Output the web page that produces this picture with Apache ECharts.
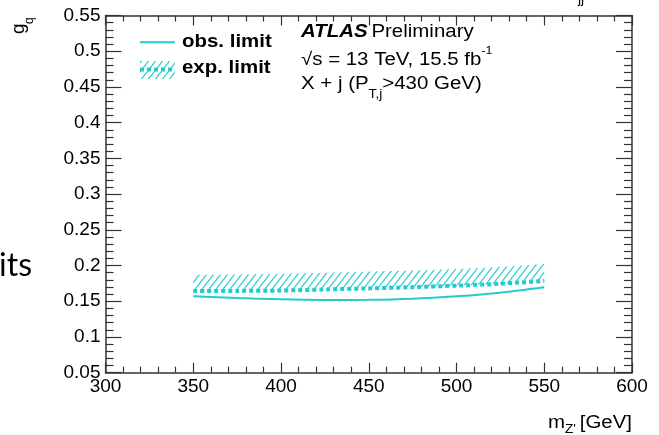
<!DOCTYPE html>
<html><head><meta charset="utf-8">
<script src="https://cdn.jsdelivr.net/npm/echarts@6/dist/echarts.min.js"></script>
<style>html,body{margin:0;padding:0;background:#fff}#c{width:659px;height:435px}</style>
</head><body><div id="c"></div>
<script>
// ---- data ----
const masses = [350, 375, 400, 425, 450, 475, 500, 525, 550];
const observed = [0.157, 0.1545, 0.1528, 0.1518, 0.152, 0.1535, 0.157, 0.162, 0.1695];
const expected = [0.1644, 0.1645, 0.165, 0.1665, 0.168, 0.1697, 0.1718, 0.1745, 0.1785];
const expectedUpper = [0.187, 0.1875, 0.1885, 0.19, 0.1915, 0.1932, 0.1952, 0.198, 0.202];
const xMin = 300, xMax = 600, xInterval = 50;
const yMin = 0.05, yMax = 0.55, yInterval = 0.05;

const CYAN = '#22cccc';
const AX = '#333333';
const FONT = 'Liberation Sans, Arial, sans-serif';
const SX = 1.136;

function hatchCanvas() {
  const c = document.createElement('canvas');
  c.width = 7; c.height = 9;
  const g = c.getContext('2d');
  g.strokeStyle = CYAN; g.lineWidth = 1.1;
  for (const dx of [-7, 0, 7]) {
    g.beginPath(); g.moveTo(dx - 0.8, 10); g.lineTo(dx + 7.8, -1); g.stroke();
  }
  return c;
}
const hatch = hatchCanvas();

const pairs = arr => masses.map((m, i) => [m, arr[i]]);

const tickStyle = { color: AX, width: 1.2 };
function mkX(pos, labels) {
  return {
    type: 'value', position: pos, min: xMin, max: xMax, interval: xInterval,
    splitLine: { show: false },
    axisLine: { show: true, onZero: false, lineStyle: { color: AX, width: 1.5 } },
    axisTick: { show: true, inside: true, length: 10, lineStyle: tickStyle },
    minorTick: { show: true, splitNumber: 5, length: 6, lineStyle: tickStyle },
    axisLabel: { show: labels, fontSize: 19, color: '#000', fontFamily: FONT, margin: 5, showMinLabel: true, showMaxLabel: true }
  };
}
function mkY(pos, labels) {
  return {
    type: 'value', position: pos, min: yMin, max: yMax, interval: yInterval,
    splitLine: { show: false },
    axisLine: { show: true, onZero: false, lineStyle: { color: AX, width: 1.5 } },
    axisTick: { show: true, inside: true, length: 16, lineStyle: tickStyle },
    minorTick: { show: true, splitNumber: 5, length: 8, lineStyle: tickStyle },
    axisLabel: { show: labels, fontSize: 19, color: '#000', fontFamily: FONT, margin: 5,
      showMinLabel: true, showMaxLabel: true, formatter: v => String(+(+v).toFixed(2)) }
  };
}

const chart = echarts.init(document.getElementById('c'), null, { renderer: 'canvas' });
chart.setOption({
  animation: false,
  backgroundColor: '#fff',
  grid: { left: 105.5, right: 27, top: 15.5, bottom: 62.3, containLabel: false, outerBoundsMode: 'none' },
  xAxis: [mkX('bottom', true), mkX('top', false)],
  yAxis: [mkY('left', true), mkY('right', false)],
  series: [
    { type: 'custom', coordinateSystem: 'cartesian2d', data: [[masses[0], expected[0]]], silent: true, z: 1,
      renderItem: function (params, api) {
        const top = masses.map((m, i) => api.coord([m, expectedUpper[i]]));
        const bot = masses.map((m, i) => api.coord([m, expected[i]])).reverse();
        return { type: 'polygon', shape: { points: top.concat(bot) },
                 style: { fill: { image: hatch, repeat: 'repeat' }, stroke: null } };
      } },
    { type: 'line', data: pairs(expected), symbol: 'none', smooth: 0.3,
      lineStyle: { color: CYAN, width: 4, type: [4, 3], cap: 'butt' }, z: 3 },
    { type: 'line', data: pairs(observed), symbol: 'none', smooth: 0.3,
      lineStyle: { color: CYAN, width: 2 }, z: 3 }
  ],
  graphic: [
    // y-axis title g_q (rotated)
    { type: 'group', x: 19, y: 34, rotation: Math.PI / 2, children: [
      { type: 'text', x: 0, y: 0, style: { text: 'g', font: '19px ' + FONT, fill: '#000', align: 'left', verticalAlign: 'middle' } },
      { type: 'text', x: 10, y: 10.4, style: { text: 'q', font: '12px ' + FONT, fill: '#000', align: 'left', verticalAlign: 'middle' } }
    ] },
    // x-axis title
    { type: 'text', x: 632, y: 423, scaleX: SX, style: {
      text: '{n|m}{s|Z\'} {n|[GeV]}', align: 'right', verticalAlign: 'middle', fill: '#000',
      rich: { n: { fontSize: 18, fontFamily: FONT, lineHeight: 26, verticalAlign: 'middle' },
              s: { fontSize: 12, fontFamily: FONT, lineHeight: 26, verticalAlign: 'bottom' } } } },
    // legend
    { type: 'line', shape: { x1: 140, y1: 42.3, x2: 175, y2: 42.3 }, style: { stroke: CYAN, lineWidth: 2 } },
    { type: 'text', x: 182, y: 42, scaleX: SX, style: { text: 'obs. limit', font: 'bold 18px ' + FONT, fill: '#000', align: 'left', verticalAlign: 'middle' } },
    { type: 'rect', shape: { x: 140, y: 61, width: 35, height: 18 }, style: { fill: { image: hatch, repeat: 'repeat' } } },
    { type: 'line', shape: { x1: 140, y1: 69.5, x2: 175, y2: 69.5 }, style: { stroke: CYAN, lineWidth: 4, lineDash: [4, 3] } },
    { type: 'text', x: 182, y: 68, scaleX: SX, style: { text: 'exp. limit', font: 'bold 18px ' + FONT, fill: '#000', align: 'left', verticalAlign: 'middle' } },
    // ATLAS labels
    { type: 'text', x: 301, y: 32, scaleX: SX, style: {
      text: '{a|ATLAS} {b|Preliminary}', align: 'left', verticalAlign: 'middle', fill: '#000',
      rich: { a: { fontSize: 18, fontFamily: FONT, fontWeight: 'bold', fontStyle: 'italic' },
              b: { fontSize: 18, fontFamily: FONT } } } },
    { type: 'text', x: 301, y: 60, scaleX: SX, style: {
      text: '{n|√s = 13 TeV, 15.5 fb}{p|-1}', align: 'left', verticalAlign: 'middle', fill: '#000',
      rich: { n: { fontSize: 18, fontFamily: FONT, lineHeight: 30, verticalAlign: 'middle' },
              p: { fontSize: 11, fontFamily: FONT, lineHeight: 30, verticalAlign: 'top' } } } },
    { type: 'text', x: 301, y: 84, scaleX: SX, style: {
      text: '{n|X + j (P}{s|T,j}{n|>430 GeV)}', align: 'left', verticalAlign: 'middle', fill: '#000',
      rich: { n: { fontSize: 18, fontFamily: FONT, lineHeight: 34, verticalAlign: 'middle' },
              s: { fontSize: 12, fontFamily: FONT, lineHeight: 34, verticalAlign: 'bottom' } } } },
    // partial text from surrounding slide
    { type: 'text', x: 578, y: 6, style: { text: 'jj', font: '14px ' + FONT, fill: '#000', align: 'left', verticalAlign: 'bottom' } },
    { type: 'text', x: 32, y: 266, style: { text: 'its', font: '32px Lato, "Open Sans", sans-serif', fill: '#000', align: 'right', verticalAlign: 'middle' } }
  ]
});
</script>
</body></html>
